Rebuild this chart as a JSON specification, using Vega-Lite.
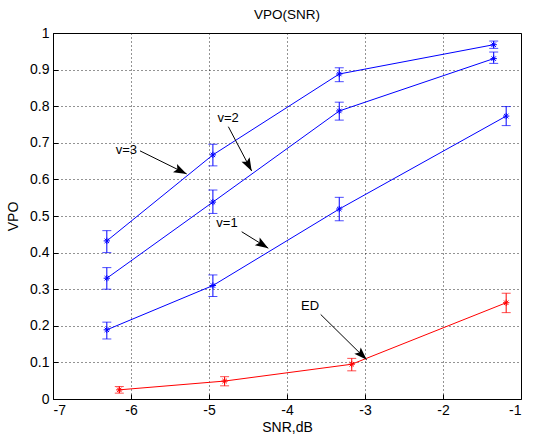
{
  "$schema": "https://vega.github.io/schema/vega-lite/v6.json",
  "width": 468,
  "height": 366,
  "autosize": {"type": "none"},
  "padding": {"left": 53, "top": 33, "right": 12, "bottom": 38},
  "background": "white",
  "config": {
    "font": "Liberation Sans",
    "view": {"stroke": "black", "strokeWidth": 1},
    "axis": {
      "labelFont": "Liberation Sans",
      "labelFontSize": 14,
      "labelColor": "black",
      "titleFont": "Liberation Sans",
      "titleFontSize": 14,
      "titleFontWeight": "normal",
      "titleColor": "black",
      "domain": false,
      "tickColor": "black",
      "tickSize": -5,
      "grid": true,
      "gridColor": "black",
      "gridDash": [1, 3],
      "gridOpacity": 0.85,
      "labelOverlap": false
    },
    "axisX": {"labelPadding": 9, "titlePadding": 3, "labelExpr": "'' + datum.value"},
    "axisY": {"labelPadding": 9, "titlePadding": 9, "labelExpr": "'' + datum.value"}
  },
  "title": {"text": "VPO(SNR)", "fontSize": 13.5, "fontWeight": "normal", "font": "Liberation Sans", "color": "black", "offset": 5},
  "datasets": {
    "pts": [
      {"series": "v=3", "snr": -6.31, "vpo": 0.432, "lo": 0.40, "hi": 0.46},
      {"series": "v=3", "snr": -4.95, "vpo": 0.667, "lo": 0.637, "hi": 0.696},
      {"series": "v=3", "snr": -3.33, "vpo": 0.888, "lo": 0.867, "hi": 0.905},
      {"series": "v=3", "snr": -1.35, "vpo": 0.968, "lo": 0.958, "hi": 0.978},
      {"series": "v=2", "snr": -6.31, "vpo": 0.33, "lo": 0.30, "hi": 0.359},
      {"series": "v=2", "snr": -4.95, "vpo": 0.538, "lo": 0.507, "hi": 0.571},
      {"series": "v=2", "snr": -3.33, "vpo": 0.787, "lo": 0.762, "hi": 0.811},
      {"series": "v=2", "snr": -1.35, "vpo": 0.93, "lo": 0.917, "hi": 0.948},
      {"series": "v=1", "snr": -6.31, "vpo": 0.189, "lo": 0.164, "hi": 0.21},
      {"series": "v=1", "snr": -4.95, "vpo": 0.31, "lo": 0.28, "hi": 0.339},
      {"series": "v=1", "snr": -3.33, "vpo": 0.519, "lo": 0.487, "hi": 0.551},
      {"series": "v=1", "snr": -1.19, "vpo": 0.773, "lo": 0.747, "hi": 0.799},
      {"series": "ED", "snr": -6.15, "vpo": 0.025, "lo": 0.016, "hi": 0.034},
      {"series": "ED", "snr": -4.8, "vpo": 0.049, "lo": 0.036, "hi": 0.061},
      {"series": "ED", "snr": -3.17, "vpo": 0.095, "lo": 0.077, "hi": 0.111},
      {"series": "ED", "snr": -1.19, "vpo": 0.263, "lo": 0.236, "hi": 0.289}
    ],
    "ann": [
      {"label": "v=3", "tx": -6.06, "ty": 0.68, "x1": -5.885, "y1": 0.678, "x2": -5.286, "y2": 0.615, "ang": 116},
      {"label": "v=2", "tx": -4.756, "ty": 0.768, "x1": -4.752, "y1": 0.744, "x2": -4.453, "y2": 0.623, "ang": 152},
      {"label": "v=1", "tx": -4.77, "ty": 0.481, "x1": -4.581, "y1": 0.457, "x2": -4.24, "y2": 0.412, "ang": 122},
      {"label": "ED", "tx": -3.705, "ty": 0.254, "x1": -3.568, "y1": 0.231, "x2": -2.978, "y2": 0.107, "ang": 135}
    ]
  },
  "layer": [
    {
      "data": {"name": "pts"},
      "mark": {"type": "line", "strokeWidth": 1},
      "encoding": {
        "x": {"field": "snr", "type": "quantitative", "scale": {"domain": [-7, -1], "nice": false, "zero": false}, "axis": {"values": [-7, -6, -5, -4, -3, -2, -1], "title": "SNR,dB"}},
        "y": {"field": "vpo", "type": "quantitative", "scale": {"domain": [0, 1], "nice": false}, "axis": {"values": [0, 0.1, 0.2, 0.3, 0.4, 0.5, 0.6, 0.7, 0.8, 0.9, 1], "tickCount": 11, "title": "VPO"}},
        "color": {"field": "series", "type": "nominal", "scale": {"domain": ["ED", "v=1", "v=2", "v=3"], "range": ["#ff0000", "#0000ff", "#0000ff", "#0000ff"]}, "legend": null}
      }
    },
    {
      "data": {"name": "pts"},
      "mark": {"type": "rule", "strokeWidth": 1},
      "encoding": {
        "x": {"field": "snr", "type": "quantitative"},
        "y": {"field": "lo", "type": "quantitative", "axis": {"values": [0, 0.1, 0.2, 0.3, 0.4, 0.5, 0.6, 0.7, 0.8, 0.9, 1], "tickCount": 11, "title": "VPO"}},
        "y2": {"field": "hi"},
        "color": {"field": "series", "type": "nominal", "legend": null}
      }
    },
    {
      "data": {"name": "pts"},
      "mark": {"type": "tick", "orient": "horizontal", "size": 9, "thickness": 1},
      "encoding": {
        "x": {"field": "snr", "type": "quantitative"},
        "y": {"field": "lo", "type": "quantitative", "axis": {"values": [0, 0.1, 0.2, 0.3, 0.4, 0.5, 0.6, 0.7, 0.8, 0.9, 1], "tickCount": 11, "title": "VPO"}},
        "color": {"field": "series", "type": "nominal", "legend": null}
      }
    },
    {
      "data": {"name": "pts"},
      "mark": {"type": "tick", "orient": "horizontal", "size": 9, "thickness": 1},
      "encoding": {
        "x": {"field": "snr", "type": "quantitative"},
        "y": {"field": "hi", "type": "quantitative", "axis": {"values": [0, 0.1, 0.2, 0.3, 0.4, 0.5, 0.6, 0.7, 0.8, 0.9, 1], "tickCount": 11, "title": "VPO"}},
        "color": {"field": "series", "type": "nominal", "legend": null}
      }
    },
    {
      "data": {"name": "pts"},
      "mark": {"type": "point", "shape": "M-1,0L1,0M0,-1L0,1M-0.7,-0.7L0.7,0.7M-0.7,0.7L0.7,-0.7", "filled": false, "size": 40, "strokeWidth": 1, "opacity": 1},
      "encoding": {
        "x": {"field": "snr", "type": "quantitative"},
        "y": {"field": "vpo", "type": "quantitative"},
        "color": {"field": "series", "type": "nominal", "legend": null}
      }
    },
    {
      "data": {"name": "ann"},
      "mark": {"type": "rule", "color": "black", "strokeWidth": 1},
      "encoding": {
        "x": {"field": "x1", "type": "quantitative"},
        "y": {"field": "y1", "type": "quantitative", "axis": {"values": [0, 0.1, 0.2, 0.3, 0.4, 0.5, 0.6, 0.7, 0.8, 0.9, 1], "tickCount": 11, "title": "VPO"}},
        "x2": {"field": "x2"},
        "y2": {"field": "y2"}
      }
    },
    {
      "data": {"name": "ann"},
      "mark": {"type": "point", "shape": "M0,0L-0.35,1L0,0.8L0.35,1Z", "filled": true, "color": "black", "size": 676, "opacity": 1},
      "encoding": {
        "x": {"field": "x2", "type": "quantitative"},
        "y": {"field": "y2", "type": "quantitative", "axis": {"values": [0, 0.1, 0.2, 0.3, 0.4, 0.5, 0.6, 0.7, 0.8, 0.9, 1], "tickCount": 11, "title": "VPO"}},
        "angle": {"field": "ang", "type": "quantitative", "scale": null}
      }
    },
    {
      "data": {"name": "ann"},
      "mark": {"type": "text", "font": "Liberation Sans", "fontSize": 13, "color": "black", "align": "center", "baseline": "middle"},
      "encoding": {
        "x": {"field": "tx", "type": "quantitative"},
        "y": {"field": "ty", "type": "quantitative", "axis": {"values": [0, 0.1, 0.2, 0.3, 0.4, 0.5, 0.6, 0.7, 0.8, 0.9, 1], "tickCount": 11, "title": "VPO"}},
        "text": {"field": "label"}
      }
    }
  ]
}
